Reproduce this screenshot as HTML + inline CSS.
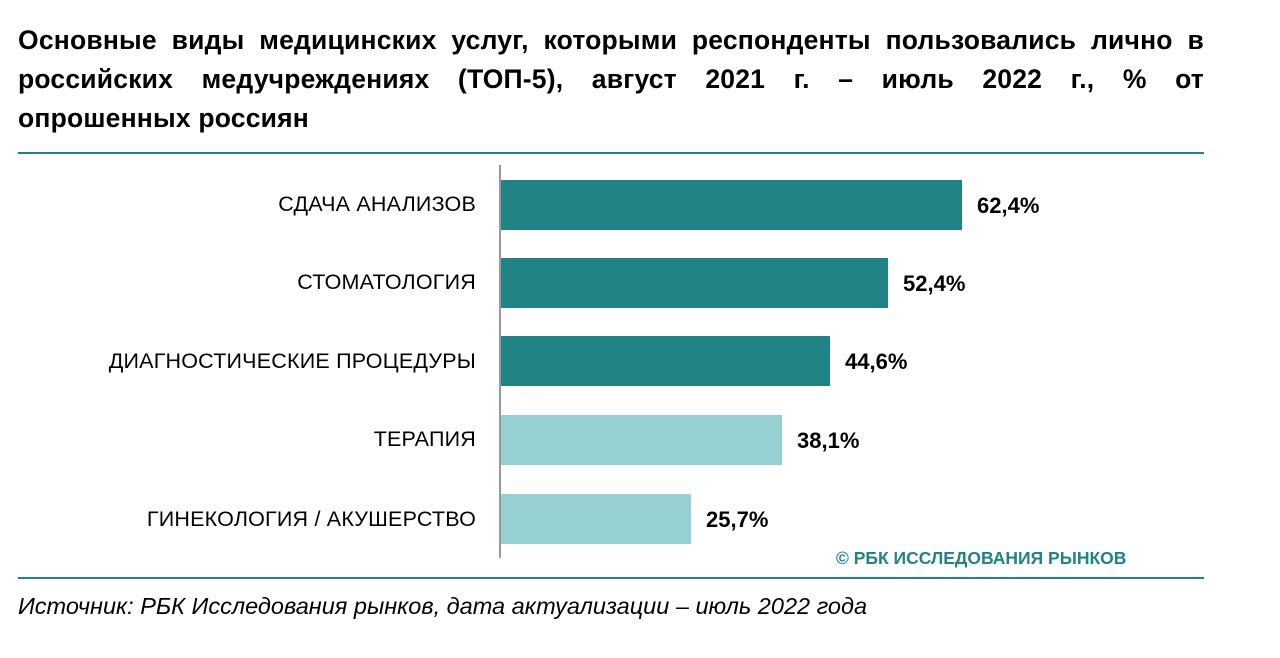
<!DOCTYPE html>
<html><head><meta charset="utf-8"><style>
body{margin:0;width:1280px;height:658px;background:#fff;font-family:"Liberation Sans",sans-serif;position:relative;overflow:hidden;color:#000}
.t{position:absolute;left:18px;width:1186px;top:21px;font-weight:bold;font-size:26.5px;line-height:39px;letter-spacing:0.2px}
.t span{display:block;text-align:justify;text-align-last:justify}
.t span.last{text-align-last:left}
.hl{position:absolute;left:18px;width:1186px;height:2px;background:#218385}
.ax{position:absolute;left:499px;top:165px;width:2px;height:393px;background:#999}
.bar{position:absolute;left:501px;height:50px}
.d{background:#218385}.l{background:#96d0d0}
.lb{position:absolute;right:804px;font-size:21.5px;line-height:24px;white-space:nowrap;letter-spacing:0.2px}
.v{position:absolute;font-size:22px;font-weight:bold;line-height:24px}
.wm{position:absolute;left:836px;top:548px;font-size:17.5px;font-weight:bold;color:#218385;white-space:nowrap}
.src{position:absolute;left:18px;top:593px;font-size:23.5px;font-style:italic;white-space:nowrap}
</style></head><body>
<div class="t"><span>Основные виды медицинских услуг, которыми респонденты пользовались лично в</span><span>российских медучреждениях (ТОП-5), август 2021 г. – июль 2022 г., % от</span><span class="last">опрошенных россиян</span></div>
<div class="hl" style="top:152px"></div>
<div class="ax"></div>
<div class="bar d" style="top:180px;width:461px"></div>
<div class="bar d" style="top:258px;width:387px"></div>
<div class="bar d" style="top:336px;width:329px"></div>
<div class="bar l" style="top:415px;width:281px"></div>
<div class="bar l" style="top:494px;width:190px"></div>
<div class="lb" style="top:192px">СДАЧА АНАЛИЗОВ</div>
<div class="lb" style="top:270px">СТОМАТОЛОГИЯ</div>
<div class="lb" style="top:349px">ДИАГНОСТИЧЕСКИЕ ПРОЦЕДУРЫ</div>
<div class="lb" style="top:427px">ТЕРАПИЯ</div>
<div class="lb" style="top:507px">ГИНЕКОЛОГИЯ / АКУШЕРСТВО</div>
<div class="v" style="left:977px;top:194px">62,4%</div>
<div class="v" style="left:903px;top:272px">52,4%</div>
<div class="v" style="left:845px;top:350px">44,6%</div>
<div class="v" style="left:797px;top:429px">38,1%</div>
<div class="v" style="left:706px;top:508px">25,7%</div>
<div class="wm">© РБК ИССЛЕДОВАНИЯ РЫНКОВ</div>
<div class="hl" style="top:577px"></div>
<div class="src">Источник: РБК Исследования рынков, дата актуализации – июль 2022 года</div>
</body></html>
